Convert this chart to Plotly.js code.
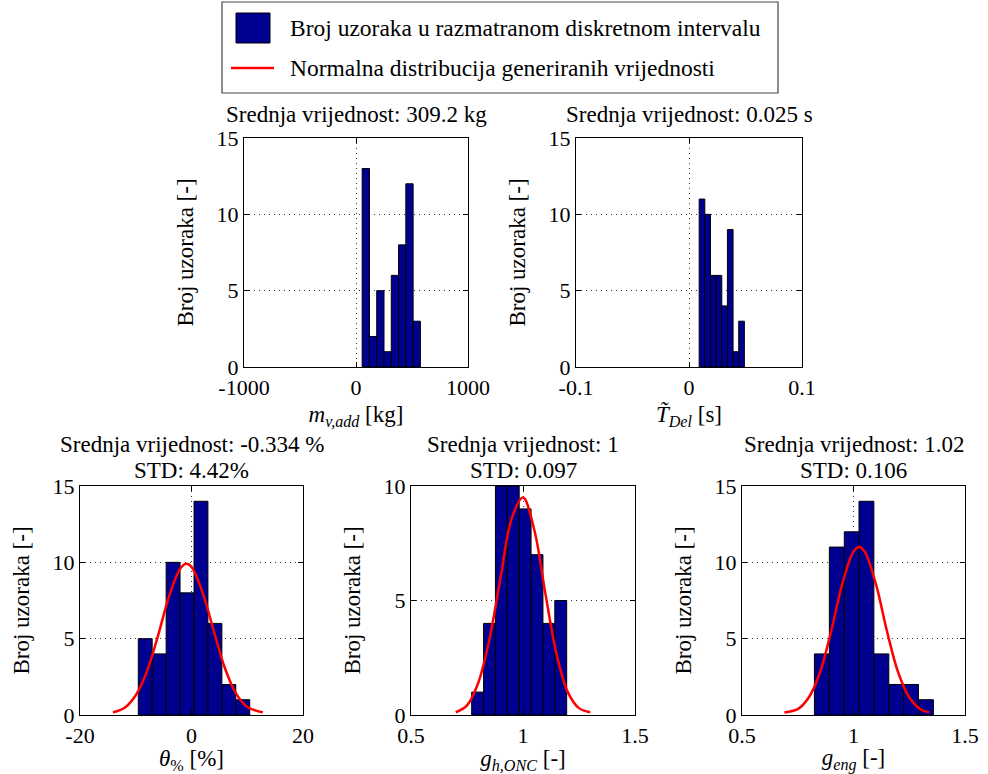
<!DOCTYPE html>
<html><head><meta charset="utf-8">
<script src="https://cdn.plot.ly/plotly-3.0.1.min.js"></script>
<style>html,body{margin:0;padding:0;background:#fff;}#chart{width:988px;height:774px;}</style>
</head><body><div id="chart"></div>
<script>
// ---------- data ----------
const massCenters = [87.5,152.5,217.5,282.5,347.5,412.5,477.5,542.5];
const massCounts  = [13,2,5,1,6,8,12,3];
const massBinWidth = 65;

const delayCenters = [0.0115,0.0165,0.0215,0.0265,0.0315,0.0365,0.0415,0.0465];
const delayCounts  = [11,10,6,6,4,9,1,3];
const delayBinWidth = 0.005;

const thetaCenters = [-8.3,-5.8,-3.3,-0.8,1.7,4.2,6.7,9.2];
const thetaCounts  = [5,4,10,8,14,6,2,1];
const thetaBinWidth = 2.49;
const thetaCurveX = [-14.1,-12,-10,-8,-6,-4,-2,-0.9,0,2,4,6,8,10,12.8];
const thetaCurveY = [0.17,0.47,1.29,2.85,5.2,7.8,9.6,9.9,9.7,8.0,5.5,3.06,1.4,0.53,0.17];

const ghCenters = [0.7975,0.8505,0.9035,0.9565,1.0095,1.0625,1.1155,1.1685];
const ghCounts  = [1,4,10,10,9,7,4,5];
const ghBinWidth = 0.053;
const ghCurveX = [0.70,0.75,0.80,0.85,0.90,0.95,1.00,1.05,1.10,1.15,1.20,1.25,1.30];
const ghCurveY = [0.12,0.42,1.4,3.3,6.0,8.6,9.5,8.1,5.3,2.65,1.0,0.3,0.12];

const engCenters = [0.858,0.925,0.992,1.058,1.125,1.192,1.258,1.325];
const engCounts  = [4,11,12,14,4,2,2,1];
const engBinWidth = 0.0666;
const engCurveX = [0.69,0.75,0.80,0.85,0.90,0.95,1.00,1.025,1.05,1.10,1.15,1.20,1.25,1.30,1.34];
const engCurveY = [0.17,0.38,1.16,2.8,5.5,8.6,10.7,11.0,10.7,8.6,5.5,2.8,1.16,0.38,0.17];

// tick values / labels
const xTickVals = [[-1000,0,1000],[-0.1,0,0.1],[-20,0,20],[0.5,1,1.5],[0.5,1,1.5]];
const xTickText = [['-1000','0','1000'],['-0.1','0','0.1'],['-20','0','20'],['0.5','1','1.5'],['0.5','1','1.5']];
const yTickVals = [[0,5,10,15],[0,5,10,15],[0,5,10,15],[0,5,10],[0,5,10,15]];

const titleLine1 = [
  'Srednja vrijednost: 309.2 kg',
  'Srednja vrijednost: 0.025 s',
  'Srednja vrijednost: -0.334 %',
  'Srednja vrijednost: 1',
  'Srednja vrijednost: 1.02'
];
const titleLine2 = ['', '', 'STD: 4.42%', 'STD: 0.097', 'STD: 0.106'];
const xTitles = [
  '<i>m</i><sub><i>v,add</i></sub> [kg]',
  '<i>T\u0303</i><sub><i>Del</i></sub> [s]',
  '<i>\u03b8</i><sub>%</sub> [%]',
  '<i>g</i><sub><i>h,ONC</i></sub> [-]',
  '<i>g</i><sub><i>eng</i></sub> [-]'
];
const yTitle = 'Broj uzoraka [-]';
const legendTexts = ['Broj uzoraka u razmatranom diskretnom intervalu','Normalna distribucija generiranih vrijednosti'];

// ---------- styling / layout ----------
const W = 988, H = 774;
const FONT = 'Liberation Serif, Times New Roman, serif';
const BAR = '#000090';
const px = v => v / W;
const py = v => 1 - v / H;

// pixel boxes of the five axes: [left, right, top, bottom]
const boxes = [
  [244, 468, 138, 367],
  [576, 802, 138, 367],
  [80, 303, 486, 715],
  [411, 635, 486, 715],
  [742, 965, 486, 715]
];
const xRanges = [[-1000,1000],[-0.1,0.1],[-20,20],[0.5,1.5],[0.5,1.5]];
const yRanges = [[0,15],[0,15],[0,15],[0,10],[0,15]];

function barTrace(i, x, y, w) {
  const s = i === 0 ? '' : String(i + 1);
  return {type:'bar', x:x, y:y, width:w, xaxis:'x'+s, yaxis:'y'+s,
    marker:{color:BAR, line:{color:'#000', width:1}}, showlegend:false, hoverinfo:'x+y'};
}
function lineTrace(i, x, y) {
  const s = i === 0 ? '' : String(i + 1);
  return {type:'scatter', mode:'lines', x:x, y:y, xaxis:'x'+s, yaxis:'y'+s,
    line:{color:'#ff0000', width:2.5, shape:'spline', smoothing:1}, showlegend:false};
}

const data = [
  barTrace(0, massCenters, massCounts, massBinWidth),
  barTrace(1, delayCenters, delayCounts, delayBinWidth),
  barTrace(2, thetaCenters, thetaCounts, thetaBinWidth),
  lineTrace(2, thetaCurveX, thetaCurveY),
  barTrace(3, ghCenters, ghCounts, ghBinWidth),
  lineTrace(3, ghCurveX, ghCurveY),
  barTrace(4, engCenters, engCounts, engBinWidth),
  lineTrace(4, engCurveX, engCurveY)
];

const axBase = {
  showline:true, mirror:'ticks', linecolor:'#000', linewidth:1.2,
  ticks:'inside', ticklen:5, tickcolor:'#000',
  showgrid:true, gridcolor:'#333', griddash:'1px,4px', gridwidth:1,
  zeroline:false, fixedrange:true,
  tickfont:{family:FONT, size:22, color:'#000'}
};

const layout = {
  width:W, height:H, margin:{l:0,r:0,t:0,b:0},
  paper_bgcolor:'#fff', plot_bgcolor:'#fff',
  font:{family:FONT, color:'#000', size:22},
  bargap:0, showlegend:false,
  annotations:[], shapes:[]
};

const tFont = {family:FONT, size:23, color:'#000'};
boxes.forEach((b, i) => {
  const s = i === 0 ? '' : String(i + 1);
  layout['xaxis'+s] = Object.assign({}, axBase, {
    domain:[px(b[0]), px(b[1])], anchor:'y'+s,
    range:xRanges[i], tickmode:'array', tickvals:xTickVals[i], ticktext:xTickText[i],
    title:{text:xTitles[i], font:tFont, standoff:7}
  });
  layout['yaxis'+s] = Object.assign({}, axBase, {
    domain:[py(b[3]), py(b[2])], anchor:'x'+s,
    range:yRanges[i], tickmode:'array', tickvals:yTickVals[i],
    title:{text:yTitle, font:tFont, standoff:16}
  });
  const cx = px((b[0]+b[1])/2);
  if (titleLine2[i]) {
    layout.annotations.push({xref:'paper', yref:'paper', x:cx, y:py(b[2]-1),
      xanchor:'center', yanchor:'bottom', showarrow:false, text:titleLine2[i], font:tFont});
    layout.annotations.push({xref:'paper', yref:'paper', x:cx, y:py(b[2]-27),
      xanchor:'center', yanchor:'bottom', showarrow:false, text:titleLine1[i], font:tFont});
  } else {
    layout.annotations.push({xref:'paper', yref:'paper', x:cx, y:py(b[2]-9),
      xanchor:'center', yanchor:'bottom', showarrow:false, text:titleLine1[i], font:tFont});
  }
});

// legend box (drawn)
layout.shapes.push({type:'rect', xref:'paper', yref:'paper', x0:px(222), x1:px(778), y0:py(2), y1:py(93), line:{color:'#444', width:1.2}, fillcolor:'#fff'});
layout.shapes.push({type:'rect', xref:'paper', yref:'paper', x0:px(236), x1:px(270), y0:py(13), y1:py(43), line:{color:'#000', width:1}, fillcolor:BAR});
layout.shapes.push({type:'line', xref:'paper', yref:'paper', x0:px(231), x1:px(274), y0:py(68), y1:py(68), line:{color:'#ff0000', width:2.5}});
layout.annotations.push({xref:'paper', yref:'paper', x:px(288), y:py(28), xanchor:'left', yanchor:'middle', showarrow:false, text:legendTexts[0], font:{family:FONT, size:23.5, color:'#000'}});
layout.annotations.push({xref:'paper', yref:'paper', x:px(288), y:py(68), xanchor:'left', yanchor:'middle', showarrow:false, text:legendTexts[1], font:{family:FONT, size:23.5, color:'#000'}});

Plotly.newPlot('chart', data, layout, {displayModeBar:false, staticPlot:true});
</script>
</body></html>
